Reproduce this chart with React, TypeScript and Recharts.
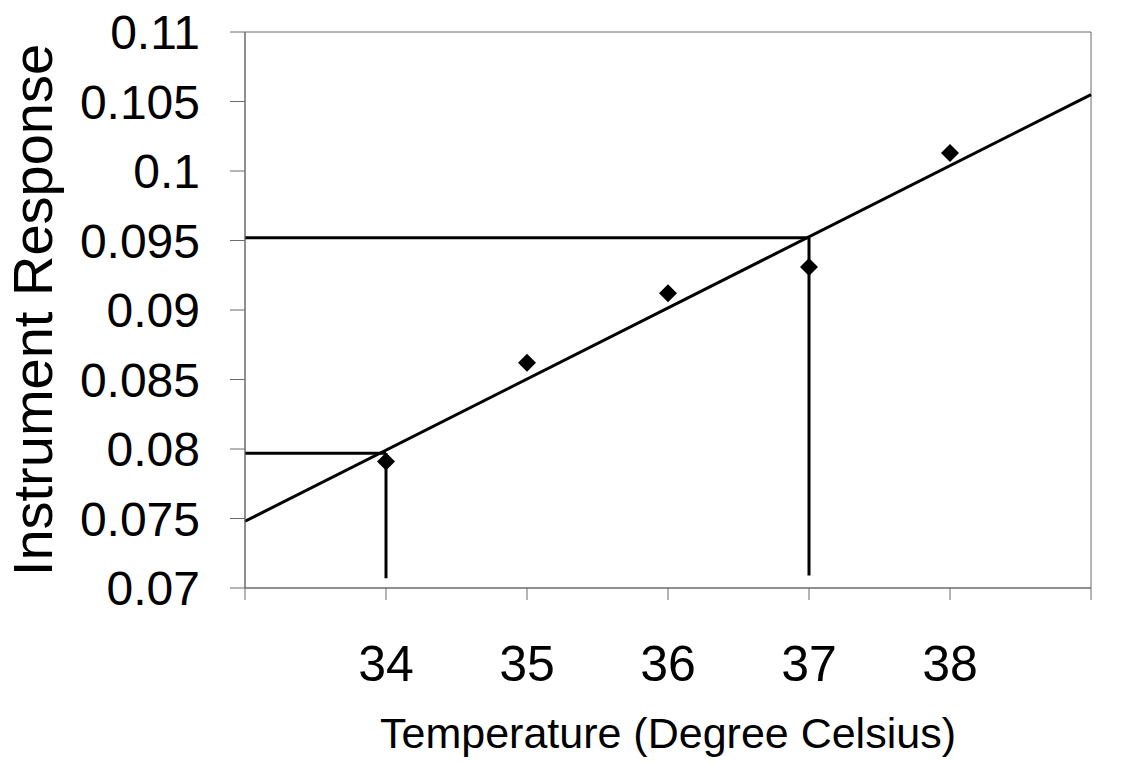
import { ComposedChart, XAxis, YAxis, Scatter, ReferenceLine, ReferenceArea, Label } from 'recharts';

// calibration readings
const temps = [34, 35, 36, 37, 38];
const responses = [0.0791, 0.0862, 0.0912, 0.0931, 0.1013];

// least-squares line, end points at the plot edges
const fitX = [33, 39];
const fitY = [0.0748, 0.1055];

// read-off guides: where the horizontal meets the line, and where the drop stops
const readX = [34, 37];
const readY = [0.0797, 0.0952];
const dropEndY = [0.0707, 0.0709];

const xTicks = [33, 34, 35, 36, 37, 38, 39];
const yTicks = [0.07, 0.075, 0.08, 0.085, 0.09, 0.095, 0.1, 0.105, 0.11];

const FONT = '"Liberation Sans", Arial, sans-serif';
const AXIS_GRAY = '#6b6b6b';

const points = temps.map((t, i) => ({ x: t, y: responses[i] }));

const Diamond = (props: any) => {
  const { cx, cy } = props;
  const r = 9;
  return <polygon points={`${cx},${cy - r} ${cx + r},${cy} ${cx},${cy + r} ${cx - r},${cy}`} fill="#000" />;
};

export default function App() {
  return (
    <div style={{ position: 'absolute', left: 0, top: 0, background: '#fff' }}>
      <ComposedChart width={1123} height={765} margin={{ top: 32, right: 32, left: 0, bottom: 0 }}>
        <XAxis
          type="number"
          dataKey="x"
          domain={[33, 39]}
          ticks={xTicks}
          interval={0}
          tickFormatter={(v: number) => (v === 33 || v === 39 ? '' : String(v))}
          height={177}
          tickSize={12}
          tickMargin={45}
          stroke={AXIS_GRAY}
          tick={{ fill: '#000', fontSize: 50, fontFamily: FONT }}
        >
          <Label
            content={({ viewBox }: any) => (
              <text
                x={viewBox.x + viewBox.width / 2}
                y={viewBox.y + 160}
                textAnchor="middle"
                fontSize={43}
                fontFamily={FONT}
                fill="#000"
              >
                Temperature (Degree Celsius)
              </text>
            )}
          />
        </XAxis>
        <YAxis
          type="number"
          dataKey="y"
          domain={[0.07, 0.11]}
          ticks={yTicks}
          interval={0}
          tickFormatter={(v: number) => String(Number(v.toFixed(3)))}
          width={245}
          tickSize={15}
          tickMargin={30}
          stroke={AXIS_GRAY}
          tick={{ fill: '#000', fontSize: 48, fontFamily: FONT }}
        >
          <Label
            content={({ viewBox }: any) => {
              const cy = viewBox.y + viewBox.height / 2;
              return (
                <text
                  x={52}
                  y={cy}
                  transform={`rotate(-90, 52, ${cy})`}
                  textAnchor="middle"
                  fontSize={56}
                  fontFamily={FONT}
                  fill="#000"
                >
                  Instrument Response
                </text>
              );
            }}
          />
        </YAxis>
        <ReferenceArea x1={33} x2={39} y1={0.07} y2={0.11} fill="none" stroke={AXIS_GRAY} strokeWidth={1} ifOverflow="visible" />
        <ReferenceLine
          segment={[{ x: fitX[0], y: fitY[0] }, { x: fitX[1], y: fitY[1] }]}
          stroke="#000"
          strokeWidth={3}
          ifOverflow="visible"
        />
        {readX.map((rx, i) => (
          <ReferenceLine
            key={`h${i}`}
            segment={[{ x: 33, y: readY[i] }, { x: rx, y: readY[i] }]}
            stroke="#000"
            strokeWidth={3}
            ifOverflow="visible"
          />
        ))}
        {readX.map((rx, i) => (
          <ReferenceLine
            key={`v${i}`}
            segment={[{ x: rx, y: readY[i] }, { x: rx, y: dropEndY[i] }]}
            stroke="#000"
            strokeWidth={3}
            ifOverflow="visible"
          />
        ))}
        <Scatter data={points} shape={Diamond} isAnimationActive={false} />
      </ComposedChart>
    </div>
  );
}
